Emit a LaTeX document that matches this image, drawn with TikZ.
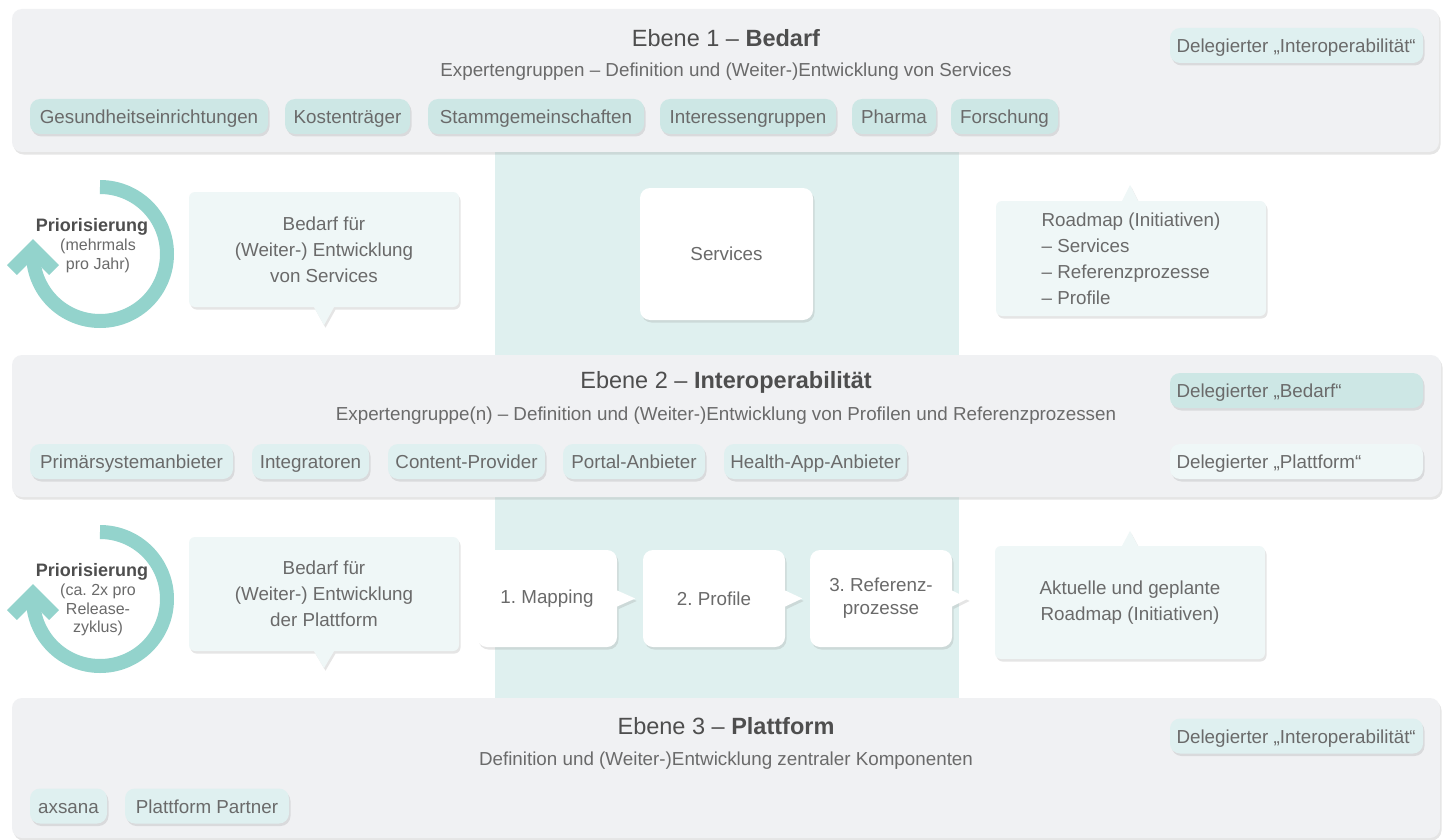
\documentclass[tikz,border=0pt]{standalone}
\usepackage{fontspec}
\setmainfont{Liberation Sans}
\usetikzlibrary{shadows}
\frenchspacing
\definecolor{panelgray}{HTML}{F0F1F3}
\definecolor{bandteal}{HTML}{DFF0EF}
\definecolor{chipdark}{HTML}{CDE7E5}
\definecolor{chiplight}{HTML}{DFF0F0}
\definecolor{bubblefill}{HTML}{EFF7F7}
\definecolor{ringteal}{HTML}{93D3CC}
\definecolor{txtgray}{HTML}{6A6A6A}
\definecolor{headgray}{HTML}{4E4E4E}
\newcommand\fbody{\fontsize{18.8}{26}\selectfont}
\newcommand\fchip{\fontsize{18.8}{22}\selectfont}
\newcommand\ftitle{\fontsize{23.5}{28}\selectfont}
\newcommand\fsmall{\fontsize{16}{18.5}\selectfont}

\begin{document}
\begin{tikzpicture}[x=1pt,y=-1pt,
    soft/.style={drop shadow={shadow xshift=1.5pt,shadow yshift=-2.5pt,opacity=0.2}},
    panel/.style={fill=panelgray,rounded corners=10pt,soft},
    chip/.style={fill=chipdark,rounded corners=10pt,soft,minimum height=35pt,inner sep=0pt,
      text height=16pt,text depth=2pt,font=\fchip,text=txtgray},
    delegate/.style={chip,minimum width=253pt,inner xsep=6.5pt,text width=240pt,align=flush left},
    bubble/.style={fill=bubblefill,rounded corners=6pt,soft,inner sep=0pt,font=\fbody,text=txtgray,align=center},
    stepbox/.style={fill=white,rounded corners=10pt,soft,inner sep=0pt,font=\fbody,text=txtgray,align=center,minimum height=97pt},
    ring/.style={ringteal,line width=14pt},
    head/.style={font=\ftitle,text=headgray},
    sub/.style={font=\fchip,text=txtgray}]
  \useasboundingbox (0,0) rectangle (1448,840);
  \fill[white] (0,0) rectangle (1448,840);
  \fill[bandteal] (495,150) rectangle (959,700);

  % Ebene 1
  \fill[panel] (12,9) rectangle (1439,152);
  \node[head] (title1) at (726,38) {Ebene 1 – \textbf{Bedarf}};
  \node[sub] (sub1) at (726,72) {Expertengruppen – Definition und (Weiter-)Entwicklung von Services};
  \node[chip,minimum width=238pt] (gesund) at (149,116.5) {Gesundheitseinrichtungen};
  \node[chip,minimum width=125pt] (kosten) at (347.5,116.5) {Kostenträger};
  \node[chip,minimum width=216pt] (stamm) at (536,116.5) {Stammgemeinschaften};
  \node[chip,minimum width=176pt] (interes) at (748,116.5) {Interessengruppen};
  \node[chip,minimum width=84pt] (pharma) at (894,116.5) {Pharma};
  \node[chip,minimum width=107pt] (forsch) at (1004.5,116.5) {Forschung};
  \node[delegate,fill=chiplight] (delA) at (1296.5,45.5) {Delegierter „Interoperabilität“};

  % Priorisierung oben
  \draw[ring] (100,254) ++(-90:67) arc[start angle=-90,end angle=185,radius=67];
  \draw[ring,line join=miter] (12,270) -- (33,249) -- (54,270);
  \node[font=\fontsize{18}{22}\selectfont\bfseries,text=headgray] (prioA) at (92,227) {Priorisierung};
  \node[font=\fsmall,text=txtgray,align=center] (prioAtxt) at (98,256) {(mehrmals\\pro Jahr)};

  \node[bubble,minimum width=270pt,minimum height=115pt] (bedA) at (324,249.5)
    {Bedarf für\\(Weiter-) Entwicklung\\von Services};
  \fill[bubblefill,soft] ([xshift=-10pt]bedA.south) -- ([yshift=-18pt]bedA.south) -- ([xshift=10pt]bedA.south) -- cycle;

  \node[stepbox,minimum width=173pt,minimum height=132pt] (serv) at (726.5,254) {Services};

  \fill[bubblefill,soft] ([xshift=-8pt]1130,201) -- (1130,185) -- ([xshift=8pt]1130,201) -- cycle;
  \node[bubble,minimum width=270pt,minimum height=115pt,align=left] (roadA) at (1131,258.5)
    {Roadmap (Initiativen)\\– Services\\– Referenzprozesse\\– Profile};

  % Ebene 2
  \fill[panel] (12,355) rectangle (1441,497);
  \node[head] (title2) at (726,382) {Ebene 2 – \textbf{Interoperabilität}};
  \node[sub] (sub2) at (726,416) {Expertengruppe(n) – Definition und (Weiter-)Entwicklung von Profilen und Referenzprozessen};
  \node[chip,fill=chiplight,minimum width=203pt] (prim) at (131.5,461.5) {Primärsystemanbieter};
  \node[chip,fill=chiplight,minimum width=117pt] (integ) at (310.5,461.5) {Integratoren};
  \node[chip,fill=chiplight,minimum width=157pt] (content) at (466.5,461.5) {Content-Provider};
  \node[chip,fill=chiplight,minimum width=142pt] (portal) at (634,461.5) {Portal-Anbieter};
  \node[chip,fill=chiplight,minimum width=183pt] (health) at (815.5,461.5) {Health-App-Anbieter};
  \node[delegate] (delB) at (1296.5,390.5) {Delegierter „Bedarf“};
  \node[delegate,fill=bubblefill] (delC) at (1296.5,461.5) {Delegierter „Plattform“};

  % Priorisierung unten
  \draw[ring] (100,599) ++(-90:67) arc[start angle=-90,end angle=185,radius=67];
  \draw[ring,line join=miter] (12,615) -- (33,594) -- (54,615);
  \node[font=\fontsize{18}{22}\selectfont\bfseries,text=headgray] (prioB) at (92,572) {Priorisierung};
  \node[font=\fsmall,text=txtgray,align=center] (prioBtxt) at (98,610) {(ca. 2x pro\\Release-\\zyklus)};

  \node[bubble,minimum width=270pt,minimum height=114pt] (bedB) at (324,594)
    {Bedarf für\\(Weiter-) Entwicklung\\der Plattform};
  \fill[bubblefill,soft] ([xshift=-10pt]bedB.south) -- ([yshift=-17pt]bedB.south) -- ([xshift=10pt]bedB.south) -- cycle;

  \node[stepbox,minimum width=140pt] (map) at (547,598.5) {1. Mapping};
  \node[stepbox,minimum width=142pt] (prof) at (714,598.5) {2. Profile};
  \node[stepbox,minimum width=142pt,font=\fontsize{18.8}{23}\selectfont] (refp) at (881,598.5) {3. Referenz-\\prozesse};
  \fill[white,soft] ([yshift=8pt]map.east) -- ([xshift=18pt]map.east) -- ([yshift=-8pt]map.east) -- cycle;
  \fill[white,soft] ([yshift=8pt]prof.east) -- ([xshift=17pt]prof.east) -- ([yshift=-8pt]prof.east) -- cycle;
  \fill[white,soft] ([yshift=8pt]refp.east) -- ([xshift=16pt]refp.east) -- ([yshift=-8pt]refp.east) -- cycle;

  \fill[bubblefill,soft] ([xshift=-8pt]1130,546) -- (1130,531) -- ([xshift=8pt]1130,546) -- cycle;
  \node[bubble,minimum width=270pt,minimum height=113pt] (roadB) at (1130,602.5)
    {Aktuelle und geplante\\Roadmap (Initiativen)};

  % Ebene 3
  \fill[panel] (12,698) rectangle (1440,838);
  \node[head] (title3) at (726,726) {Ebene 3 – \textbf{Plattform}};
  \node[sub] (sub3) at (726,761) {Definition und (Weiter-)Entwicklung zentraler Komponenten};
  \node[chip,fill=chiplight,minimum width=77pt] (axsana) at (68.5,806) {axsana};
  \node[chip,fill=chiplight,minimum width=164pt] (partner) at (207,806) {Plattform Partner};
  \node[delegate,fill=chiplight] (delD) at (1296.5,736) {Delegierter „Interoperabilität“};
\end{tikzpicture}
\end{document}
